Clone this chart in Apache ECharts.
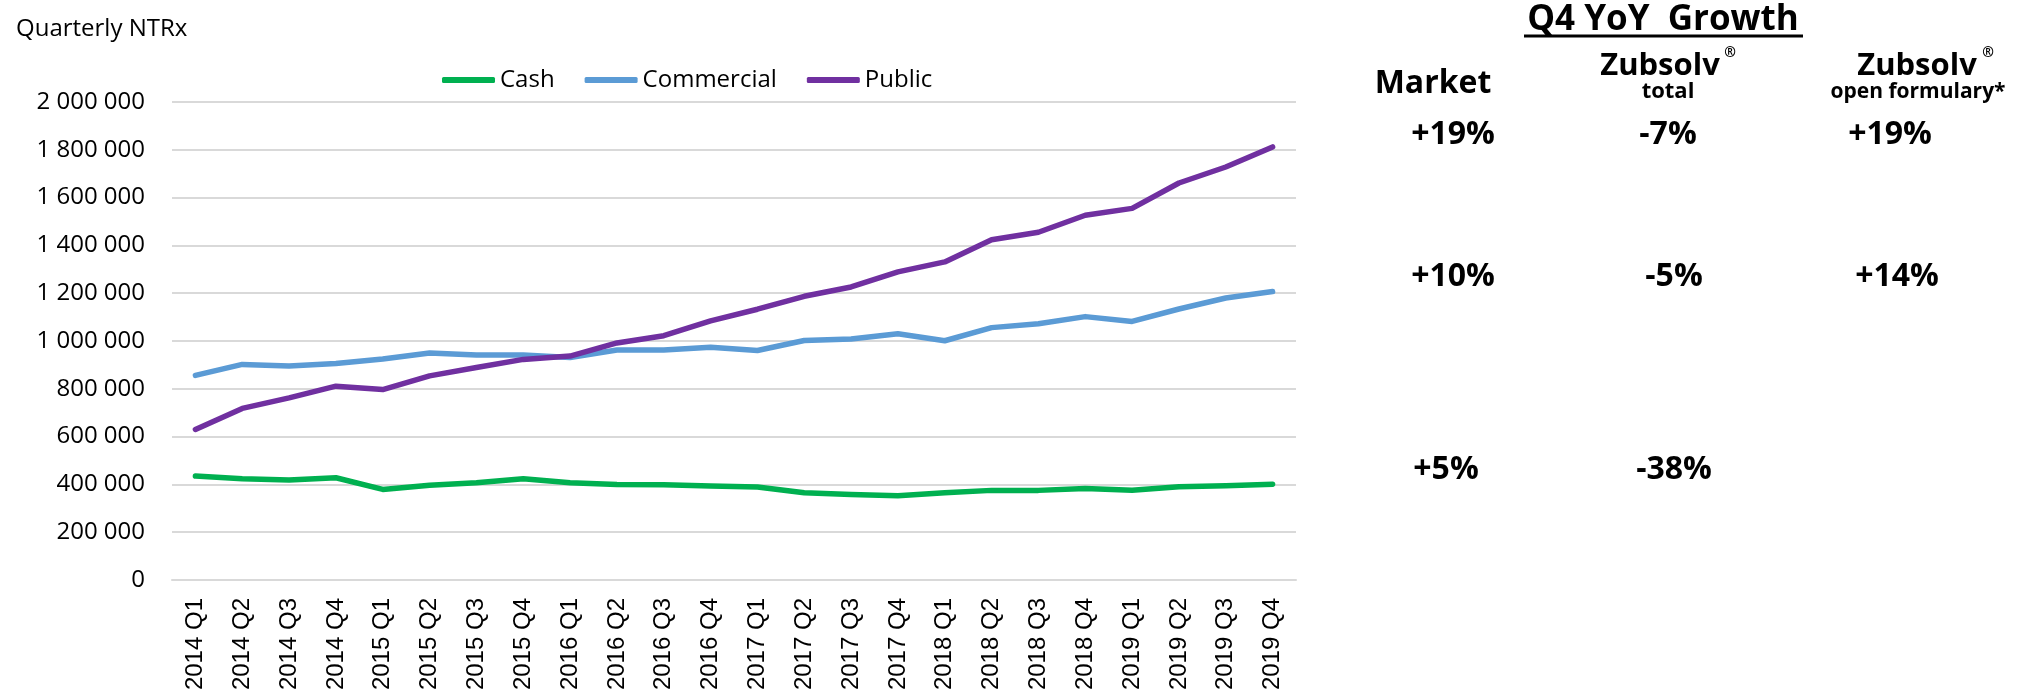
<!DOCTYPE html>
<html>
<head>
<meta charset="utf-8">
<script src="https://cdn.jsdelivr.net/npm/echarts@6/dist/echarts.min.js"></script>
<style>
    html, body { margin: 0; padding: 0; background: #fff; }
    #line-chart { width: 2024px; height: 697px; }
</style>
</head>
<body>
<div id="line-chart"></div>
<script>
const quarters = [
    "2014 Q1", "2014 Q2", "2014 Q3", "2014 Q4",
    "2015 Q1", "2015 Q2", "2015 Q3", "2015 Q4",
    "2016 Q1", "2016 Q2", "2016 Q3", "2016 Q4",
    "2017 Q1", "2017 Q2", "2017 Q3", "2017 Q4",
    "2018 Q1", "2018 Q2", "2018 Q3", "2018 Q4",
    "2019 Q1", "2019 Q2", "2019 Q3", "2019 Q4",
];
const cash = [
    435000, 424000, 418000, 428000, 379000, 396000, 407000, 424000,
    407000, 400000, 399000, 393000, 389000, 365000, 358000, 353000,
    365000, 375000, 375000, 383000, 376000, 390000, 394000, 401000,
];
const commercial = [
    856000, 902000, 895000, 906000, 925000, 950000, 941000, 941000,
    931000, 962000, 962000, 974000, 960000, 1002000, 1008000, 1030000,
    1001000, 1056000, 1072000, 1102000, 1082000, 1134000, 1180000, 1207000,
];
const publicRx = [
    630000, 718000, 762000, 811000, 797000, 854000, 889000, 923000,
    937000, 992000, 1022000, 1084000, 1133000, 1187000, 1226000, 1289000,
    1331000, 1424000, 1455000, 1526000, 1555000, 1661000, 1728000, 1812000,
];
// Q4 YoY growth table: rows are Public, Commercial, Cash
const marketGrowth = ["+19%", "+10%", "+5%"];
const zubTotalGrowth = ["-7%", "-5%", "-38%"];
const zubOpenGrowth = ["+19%", "+14%"];

const SANS = "'Open Sans', 'Noto Sans', sans-serif";

function spaced(v) {
    return String(v).replace(/\B(?=(\d{3})+(?!\d))/g, " ");
}

function txt(x, y, text, size, align) {
    return {
        type: "text",
        x: x,
        y: y,
        style: {
            text: text,
            font: "bold " + size + "px " + SANS,
            fill: "#000",
            align: align || "center",
            verticalAlign: "middle",
        },
    };
}

var myChart = echarts.init(document.getElementById("line-chart"));

var rowY = [135, 277, 470];
var colX = [[1453, 1453, 1446], [1668, 1674, 1674], [1890, 1897]];
var table = [
    txt(1663, 20, "Q4 YoY  Growth", 35),
    { type: "line", shape: { x1: 1524, y1: 36, x2: 1803, y2: 36 }, style: { stroke: "#000", lineWidth: 3 } },
    txt(1433, 84, "Market", 32),
    txt(1660, 66, "Zubsolv", 31),
    txt(1730, 53, "®", 14),
    txt(1668, 92, "total", 22),
    txt(1917, 66, "Zubsolv", 31),
    txt(1988, 53, "®", 14),
    txt(1918, 92, "open formulary*", 21),
];
[marketGrowth, zubTotalGrowth, zubOpenGrowth].forEach(function (col, c) {
    col.forEach(function (v, r) {
        table.push(txt(colX[c][r], rowY[r], v, 32));
    });
});

var lineStyle = { width: 5.5, cap: "round", join: "round" };

option = {
    animation: false,
    title: {
        text: "Quarterly NTRx",
        left: 11,
        top: 12,
        textStyle: { fontFamily: SANS, fontSize: 24, fontWeight: "normal", color: "#000" },
    },
    legend: {
        data: ["Cash", "Commercial", "Public"],
        left: 437,
        top: 63,
        icon: "roundRect",
        itemWidth: 53,
        itemHeight: 6,
        itemGap: 30,
        textStyle: { fontFamily: SANS, fontSize: 24, color: "#000" },
    },
    color: ["#00b050", "#5b9bd5", "#7030a0"],
    grid: { left: 172, right: 728, top: 102, bottom: 117 },
    xAxis: [
        {
            type: "category",
            data: quarters,
            boundaryGap: true,
            axisLine: { lineStyle: { color: "#d9d9d9", width: 2 } },
            axisTick: { show: false },
            axisLabel: {
                rotate: 90,
                margin: 18,
                fontFamily: "'Liberation Sans', Arial, sans-serif",
                fontSize: 24,
                color: "#000",
            },
        },
    ],
    yAxis: [
        {
            type: "value",
            min: 0,
            max: 2000000,
            interval: 200000,
            axisLine: { show: false },
            axisTick: { show: false },
            splitLine: { lineStyle: { color: "#d9d9d9", width: 2 } },
            axisLabel: {
                margin: 27,
                fontFamily: SANS,
                fontSize: 24,
                color: "#000",
                formatter: spaced,
            },
        },
    ],
    series: [
        { name: "Cash", type: "line", data: cash, symbol: "none", lineStyle: lineStyle },
        { name: "Commercial", type: "line", data: commercial, symbol: "none", lineStyle: lineStyle },
        { name: "Public", type: "line", data: publicRx, symbol: "none", lineStyle: lineStyle },
    ],
    graphic: table,
};
myChart.setOption(option, true);
</script>
</body>
</html>
